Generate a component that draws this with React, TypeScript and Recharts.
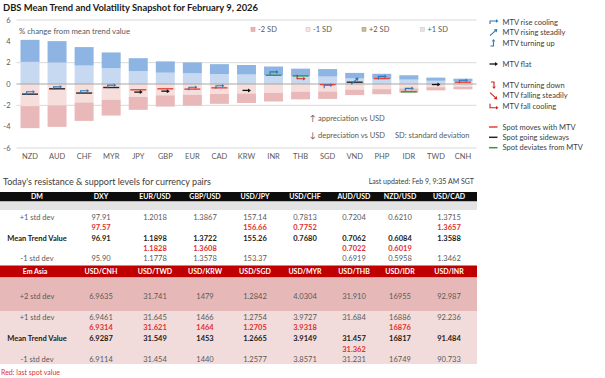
import React from 'react';
import { ComposedChart, Bar, Scatter, XAxis, YAxis, CartesianGrid, ReferenceLine } from 'recharts';

// ---------- chart data ----------
const categories = ['NZD', 'AUD', 'CHF', 'MYR', 'JPY', 'GBP', 'EUR', 'CAD', 'KRW', 'INR', 'THB', 'SGD', 'VND', 'PHP', 'IDR', 'TWD', 'CNH'];
const oneSd = [2.07, 2.01, 1.73, 1.48, 1.21, 1.06, 1.01, 0.93, 0.89, 0.82, 0.72, 0.70, 0.52, 0.48, 0.41, 0.30, 0.25];
const twoSd = [4.14, 4.02, 3.46, 2.96, 2.42, 2.12, 2.02, 1.86, 1.78, 1.64, 1.44, 1.40, 1.04, 0.96, 0.82, 0.60, 0.50];
const spotLevel: (number | null)[] = [-0.95, -0.45, -0.85, -0.33, -0.54, -0.45, -0.48, -0.36, null, 0.82, 0.76, -0.05, 0.17, 0.51, -0.73, null, 0.17];
const spotTrend = ['sideways', 'sideways', 'sideways', 'sideways', 'with', 'with', 'with', 'with', 'sideways', 'deviates', 'deviates', 'with', 'sideways', 'with', 'deviates', 'sideways', 'with'];
const mtvSignal = ['riseCool', 'riseCool', 'riseCool', 'riseCool', 'flat', 'flat', 'riseCool', 'riseCool', 'flat', 'riseCool', 'fallCool', 'riseCool', 'riseSteady', 'riseCool', 'riseCool', 'flat', 'riseCool'];
const signalLevel = [-0.82, -0.36, -0.73, -0.2, -0.76, -0.67, -0.4, -0.26, -0.6, 1.04, 0.58, -0.2, 0.26, 0.62, -0.5, -0.05, 0.26];
const yTicks = [-6, -4, -2, 0, 2, 4, 6];

// ---------- table data ----------
const dmPairs = ['DXY', 'EUR/USD', 'GBP/USD', 'USD/JPY', 'USD/CHF', 'AUD/USD', 'NZD/USD', 'USD/CAD'];
const dmPlus1 = ['97.91', '1.2018', '1.3867', '157.14', '0.7813', '0.7204', '0.6210', '1.3715'];
const dmSpotHigh = ['97.57', '', '', '156.66', '0.7752', '', '', '1.3657'];
const dmMtv = ['96.91', '1.1898', '1.3722', '155.26', '0.7680', '0.7062', '0.6084', '1.3588'];
const dmSpotLow = ['', '1.1828', '1.3608', '', '', '0.7022', '0.6019', ''];
const dmMinus1 = ['95.90', '1.1778', '1.3578', '153.37', '', '0.6919', '0.5958', '1.3462'];

const emPairs = ['USD/CNH', 'USD/TWD', 'USD/KRW', 'USD/SGD', 'USD/MYR', 'USD/THB', 'USD/IDR', 'USD/INR'];
const emPlus2 = ['6.9635', '31.741', '1479', '1.2842', '4.0304', '31.910', '16955', '92.987'];
const emPlus1 = ['6.9461', '31.645', '1466', '1.2754', '3.9727', '31.684', '16886', '92.236'];
const emSpotHigh = ['6.9314', '31.621', '1464', '1.2705', '3.9318', '', '16876', ''];
const emMtv = ['6.9287', '31.549', '1453', '1.2665', '3.9149', '31.457', '16817', '91.484'];
const emSpotLow = ['', '', '', '', '', '31.362', '', ''];
const emMinus1 = ['6.9114', '31.454', '1440', '1.2577', '3.8571', '31.231', '16749', '90.733'];

const FONT = 'Lato, "Open Sans", sans-serif';
const BLUE = '#2E75B6';
const RED = '#E03030';
const SPOT_COLORS: Record<string, string> = { with: '#E8403A', sideways: '#262626', deviates: '#2E9B3E' };
const SIGNAL_COLORS: Record<string, string> = {
  riseCool: BLUE, riseSteady: BLUE, turnUp: BLUE, flat: '#111111', turnDown: '#D02020', fallSteady: '#D02020', fallCool: '#D02020',
};

const data = categories.map((c, i) => ({
  cat: c,
  pos1: oneSd[i],
  pos2: twoSd[i] - oneSd[i],
  neg1: -oneSd[i],
  neg2: -(twoSd[i] - oneSd[i]),
  spot: spotLevel[i],
  spotColor: SPOT_COLORS[spotTrend[i]],
  signal: signalLevel[i],
  signalType: mtvSignal[i],
}));

function Glyph({ type, x, y, color }: { type: string; x: number; y: number; color: string }) {
  const sw = 1.1;
  switch (type) {
    case 'riseCool':
      return (
        <g>
          <path d={`M${x - 3.5} ${y + 2} V${y - 1} H${x + 2.5}`} stroke={color} strokeWidth={sw} fill="none" />
          <polygon points={`${x + 2.5},${y - 2.8} ${x + 5},${y - 1} ${x + 2.5},${y + 0.8}`} fill={color} />
        </g>
      );
    case 'riseSteady':
      return (
        <g>
          <line x1={x - 3.5} y1={y + 3} x2={x + 2} y2={y - 2} stroke={color} strokeWidth={sw} />
          <polygon points={`${x + 3.8},${y - 3.8} ${x + 0.2},${y - 3.2} ${x + 3.2},${y - 0.2}`} fill={color} />
        </g>
      );
    case 'turnUp':
      return (
        <g>
          <path d={`M${x - 3} ${y + 3} H${x} V${y - 1.5}`} stroke={color} strokeWidth={sw} fill="none" />
          <polygon points={`${x - 1.8},${y - 1.5} ${x + 1.8},${y - 1.5} ${x},${y - 4}`} fill={color} />
        </g>
      );
    case 'flat':
      return (
        <g>
          <line x1={x - 4} y1={y} x2={x + 2} y2={y} stroke={color} strokeWidth={1.3} />
          <polygon points={`${x + 1.5},${y - 2} ${x + 4.5},${y} ${x + 1.5},${y + 2}`} fill={color} />
        </g>
      );
    case 'turnDown':
      return (
        <g>
          <path d={`M${x - 2.5} ${y - 3} H${x + 0.5} V${y + 1.5}`} stroke={color} strokeWidth={sw} fill="none" />
          <polygon points={`${x - 1.3},${y + 1.5} ${x + 2.3},${y + 1.5} ${x + 0.5},${y + 4}`} fill={color} />
        </g>
      );
    case 'fallSteady':
      return (
        <g>
          <line x1={x - 3.5} y1={y - 3} x2={x + 2} y2={y + 2} stroke={color} strokeWidth={sw} />
          <polygon points={`${x + 3.8},${y + 3.8} ${x + 0.2},${y + 3.2} ${x + 3.2},${y + 0.2}`} fill={color} />
        </g>
      );
    case 'fallCool':
      return (
        <g>
          <path d={`M${x - 3.5} ${y - 3} V${y + 1} H${x + 2.5}`} stroke={color} strokeWidth={sw} fill="none" />
          <polygon points={`${x + 2.5},${y - 0.8} ${x + 5},${y + 1} ${x + 2.5},${y + 2.8}`} fill={color} />
        </g>
      );
    default:
      return null;
  }
}

const SpotShape = (props: any) => {
  const { cx, cy, payload } = props;
  if (payload == null || payload.spot == null || cx == null || cy == null || isNaN(cy)) return <g />;
  return <line x1={cx - 8} x2={cx + 8} y1={cy} y2={cy} stroke={payload.spotColor} strokeWidth={1.4} />;
};

const SignalShape = (props: any) => {
  const { cx, cy, payload } = props;
  if (payload == null || cx == null || cy == null || isNaN(cy)) return <g />;
  return <Glyph type={payload.signalType} x={cx} y={cy} color={SIGNAL_COLORS[payload.signalType]} />;
};

const colX = [101, 155, 205, 255, 305, 354, 400, 449];
const LABEL_X = 37;
const GREY_TXT = '#595959';

function Row({ y, label, values, color, bold, labelBold }: { y: number; label?: string; values: string[]; color: string; bold?: boolean; labelBold?: boolean }) {
  return (
    <g fontSize={7.5} fontFamily={FONT}>
      {label ? (
        <text x={LABEL_X} y={y + 2.7} textAnchor="middle" fill={labelBold ? '#1a1a1a' : GREY_TXT} fontWeight={labelBold ? 700 : 400}>{label}</text>
      ) : null}
      {values.map((v, i) => (v ? (
        <text key={i} x={colX[i]} y={y + 2.7} textAnchor="middle" fill={color} fontWeight={bold ? 700 : 400}>{v}</text>
      ) : null))}
    </g>
  );
}

export default function App() {
  const legendTop = [
    { label: '-2 SD', x: 253, fill: '#E6B8B7', stroke: '#D99694' },
    { label: '-1 SD', x: 308, fill: '#F7E4E3', stroke: '#E6B8B7' },
    { label: '+2 SD', x: 364, fill: '#C4BD97', stroke: '#A9A275' },
    { label: '+1 SD', x: 422.5, fill: '#E4E4E4', stroke: '#CFCFCF' },
  ];
  const legendSignals = [
    { type: 'riseCool', y: 22, label: 'MTV rise cooling' },
    { type: 'riseSteady', y: 32.7, label: 'MTV rising steadily' },
    { type: 'turnUp', y: 43, label: 'MTV turning up' },
    { type: 'flat', y: 64, label: 'MTV flat' },
    { type: 'turnDown', y: 85, label: 'MTV turning down' },
    { type: 'fallSteady', y: 95.7, label: 'MTV falling steadily' },
    { type: 'fallCool', y: 106.7, label: 'MTV fall cooling' },
  ];
  const legendSpots = [
    { key: 'with', y: 127, label: 'Spot moves with MTV' },
    { key: 'sideways', y: 137.3, label: 'Spot going sideways' },
    { key: 'deviates', y: 147.7, label: 'Spot deviates from MTV' },
  ];

  return (
    <div style={{ position: 'absolute', left: 0, top: 0, width: 605, height: 378, background: '#fff', overflow: 'hidden', fontFamily: FONT }}>
      <div style={{ position: 'absolute', left: 0, top: 0 }}>
        <ComposedChart
          width={477}
          height={168}
          data={data}
          stackOffset="sign"
          margin={{ top: 20, right: 0.5, left: 0.5, bottom: 0 }}
          barSize={19}
        >
          <CartesianGrid vertical={false} stroke="#D9D9D9" strokeWidth={1} />
          <XAxis
            dataKey="cat"
            tickLine={false}
            axisLine={false}
            tickSize={0}
            tickMargin={6}
            height={20}
            interval={0}
            tick={{ fontSize: 7.5, fill: GREY_TXT, fontFamily: FONT }}
          />
          <YAxis
            domain={[-6, 6]}
            ticks={yTicks}
            width={16}
            tickLine={false}
            axisLine={false}
            tickSize={0}
            tickMargin={6}
            tick={{ fontSize: 7.5, fill: GREY_TXT, fontFamily: FONT }}
          />
          <Bar dataKey="pos1" stackId="a" fill="#C6D9F1" isAnimationActive={false} />
          <Bar dataKey="pos2" stackId="a" fill="#8DB4E2" isAnimationActive={false} />
          <Bar dataKey="neg1" stackId="a" fill="#F6DEDD" isAnimationActive={false} />
          <Bar dataKey="neg2" stackId="a" fill="#E8B9B8" isAnimationActive={false} />
          <ReferenceLine y={0} stroke="#A6A6A6" strokeWidth={1} />
          <Scatter dataKey="spot" shape={SpotShape} isAnimationActive={false} />
          <Scatter dataKey="signal" shape={SignalShape} isAnimationActive={false} />
        </ComposedChart>
      </div>

      <svg width={605} height={378} style={{ position: 'absolute', left: 0, top: 0, pointerEvents: 'none' }} fontFamily={FONT}>
        <text x={3} y={10.5} fontSize={10} fontWeight={700} fill="#1a1a1a" textLength={255} lengthAdjust="spacingAndGlyphs">
          DBS Mean Trend and Volatility Snapshot for February 9, 2026
        </text>
        <text x={19} y={33.5} fontSize={7.5} fill={GREY_TXT} textLength={111} lengthAdjust="spacingAndGlyphs">% change from mean trend value</text>

        {legendTop.map((l) => (
          <g key={l.label}>
            <rect x={l.x - 2} y={27.3} width={4} height={4} fill={l.fill} stroke={l.stroke} strokeWidth={0.6} />
            <text x={l.x + 5} y={32} fontSize={7.5} fill={GREY_TXT}>{l.label}</text>
          </g>
        ))}

        {legendSignals.map((l) => (
          <g key={l.label}>
            <Glyph type={l.type} x={493.5} y={l.y} color={SIGNAL_COLORS[l.type]} />
            <text x={502.5} y={l.y + 2.7} fontSize={7.5} fill="#404040">{l.label}</text>
          </g>
        ))}
        {legendSpots.map((l) => (
          <g key={l.label}>
            <line x1={489} x2={497.5} y1={l.y} y2={l.y} stroke={SPOT_COLORS[l.key]} strokeWidth={1.5} />
            <text x={502.5} y={l.y + 2.7} fontSize={7.5} fill="#404040">{l.label}</text>
          </g>
        ))}

        <text x={312.5} y={120.8} fontSize={8} fill={GREY_TXT} textAnchor="middle">↑</text>
        <text x={318} y={121} fontSize={7.5} fill={GREY_TXT}>appreciation vs USD</text>
        <text x={312.5} y={137.6} fontSize={8} fill={GREY_TXT} textAnchor="middle">↓</text>
        <text x={318} y={137.7} fontSize={7.5} fill={GREY_TXT}>depreciation vs USD</text>
        <text x={395} y={137.7} fontSize={7.5} fill={GREY_TXT}>SD: standard deviation</text>

        <text x={3} y={185} fontSize={9} fill="#404040">Today's resistance &amp; support levels for currency pairs</text>
        <text x={474} y={184} fontSize={7} fill="#404040" textAnchor="end">Last updated: Feb 9, 9:35 AM SGT</text>

        {/* DM table */}
        <rect x={0} y={192} width={477} height={9.5} fill="#0D0D0D" />
        <g fontSize={7} fontWeight={700} fill="#ffffff">
          <text x={LABEL_X} y={199.3} textAnchor="middle">DM</text>
          {dmPairs.map((p, i) => <text key={p} x={colX[i]} y={199.3} textAnchor="middle">{p}</text>)}
        </g>
        <rect x={0} y={201.5} width={477} height={8.5} fill="#E3E3E3" />
        <Row y={217.3} label="+1 std dev" values={dmPlus1} color={GREY_TXT} />
        <Row y={227.5} values={dmSpotHigh} color={RED} bold />
        <Row y={237.8} label="Mean Trend Value" values={dmMtv} color="#1a1a1a" bold labelBold />
        <Row y={248.2} values={dmSpotLow} color={RED} bold />
        <Row y={258.3} label="-1 std dev" values={dmMinus1} color={GREY_TXT} />

        {/* Em Asia table */}
        <rect x={0} y={265.5} width={477} height={12} fill="#C00000" />
        <g fontSize={7} fontWeight={700} fill="#ffffff">
          <text x={LABEL_X - 2} y={274} textAnchor="middle">Em Asia</text>
          {emPairs.map((p, i) => <text key={p} x={colX[i]} y={274} textAnchor="middle">{p}</text>)}
        </g>
        <rect x={0} y={277.5} width={477} height={33.5} fill="#E6B9B8" />
        <rect x={0} y={311} width={477} height={53} fill="#F2DCDB" />
        <Row y={296.7} label="+2 std dev" values={emPlus2} color={GREY_TXT} />
        <Row y={317.3} label="+1 std dev" values={emPlus1} color={GREY_TXT} />
        <Row y={327.7} values={emSpotHigh} color={RED} bold />
        <Row y={338.3} label="Mean Trend Value" values={emMtv} color="#1a1a1a" bold labelBold />
        <Row y={349} values={emSpotLow} color={RED} bold />
        <Row y={359.3} label="-1 std dev" values={emMinus1} color={GREY_TXT} />

        <text x={1} y={375} fontSize={7} fill={RED}>Red: last spot value</text>
      </svg>
    </div>
  );
}
